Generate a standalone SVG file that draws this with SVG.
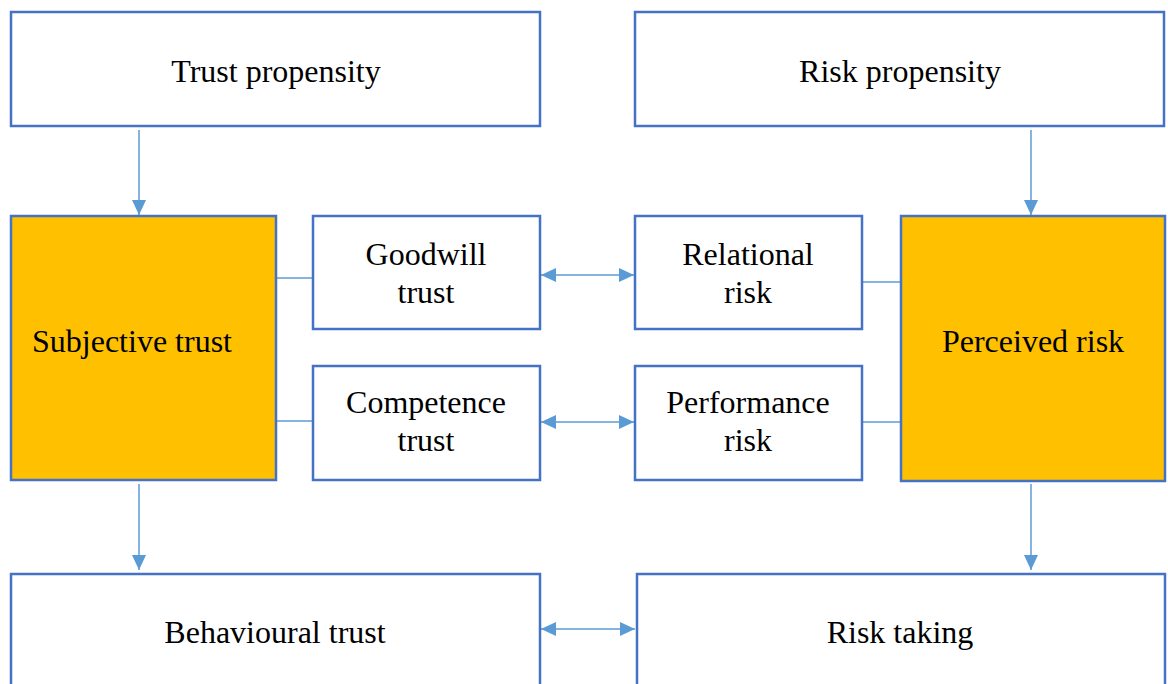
<svg xmlns="http://www.w3.org/2000/svg" width="1168" height="684" viewBox="0 0 1168 684">
<style>
.box{fill:#fff;stroke:#4472C4;stroke-width:2.5}
.hi{fill:#FFC000;stroke:#4472C4;stroke-width:2.5}
.t{font-family:"Liberation Serif","Times New Roman",serif;font-size:32px;fill:#000;text-anchor:middle}
.c{stroke:#5B9BD5;stroke-width:1.5;fill:none}
</style>
<defs>
<marker id="ah" viewBox="0 0 10 10" refX="10" refY="5" markerWidth="15" markerHeight="14" markerUnits="userSpaceOnUse" preserveAspectRatio="none" orient="auto-start-reverse">
<path d="M0,0 L10,5 L0,10 z" fill="#5B9BD5"/>
</marker>
</defs>
<g id="connectors">
<line class="c" x1="139" y1="130" x2="139" y2="215" marker-end="url(#ah)"/>
<line class="c" x1="1031" y1="130" x2="1031" y2="215" marker-end="url(#ah)"/>
<line class="c" x1="139" y1="484" x2="139" y2="570" marker-end="url(#ah)"/>
<line class="c" x1="1031" y1="484" x2="1031" y2="570" marker-end="url(#ah)"/>
<line class="c" x1="276" y1="278" x2="313" y2="278"/>
<line class="c" x1="276" y1="421" x2="313" y2="421"/>
<line class="c" x1="862" y1="282" x2="901" y2="282"/>
<line class="c" x1="862" y1="422" x2="901" y2="422"/>
<line class="c" x1="541" y1="275" x2="634" y2="275" marker-start="url(#ah)" marker-end="url(#ah)"/>
<line class="c" x1="541" y1="422" x2="634" y2="422" marker-start="url(#ah)" marker-end="url(#ah)"/>
<line class="c" x1="541" y1="629" x2="635" y2="629" marker-start="url(#ah)" marker-end="url(#ah)"/>
</g>
<g id="trust-propensity"><rect class="box" x="11" y="12" width="529" height="114"/><text class="t" x="276" y="82">Trust propensity</text></g>
<g id="risk-propensity"><rect class="box" x="635" y="12" width="529" height="114"/><text class="t" x="900" y="82">Risk propensity</text></g>
<g id="subjective-trust"><rect class="hi" x="11" y="216" width="265" height="264"/><text class="t" x="32" y="352" style="text-anchor:start">Subjective trust</text></g>
<g id="perceived-risk"><rect class="hi" x="901" y="216" width="264" height="265"/><text class="t" x="1033" y="352">Perceived risk</text></g>
<g id="goodwill-trust"><rect class="box" x="313" y="216" width="227" height="113"/><text class="t" x="426" y="265">Goodwill</text><text class="t" x="426" y="303">trust</text></g>
<g id="competence-trust"><rect class="box" x="313" y="366" width="227" height="114"/><text class="t" x="426" y="413">Competence</text><text class="t" x="426" y="451">trust</text></g>
<g id="relational-risk"><rect class="box" x="635" y="216" width="227" height="113"/><text class="t" x="748" y="265">Relational</text><text class="t" x="748" y="303">risk</text></g>
<g id="performance-risk"><rect class="box" x="635" y="366" width="227" height="114"/><text class="t" x="748" y="413">Performance</text><text class="t" x="748" y="451">risk</text></g>
<g id="behavioural-trust"><rect class="box" x="11" y="574" width="529" height="130"/><text class="t" x="275" y="643">Behavioural trust</text></g>
<g id="risk-taking"><rect class="box" x="637" y="574" width="528" height="130"/><text class="t" x="900" y="643">Risk taking</text></g>
</svg>
